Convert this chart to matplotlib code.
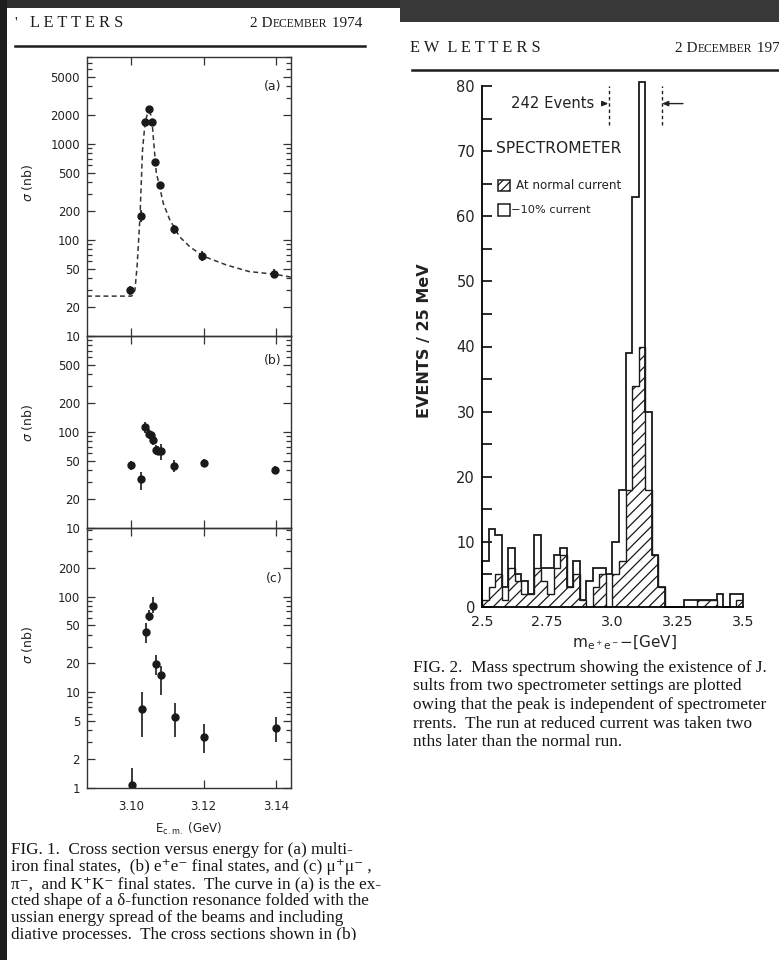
import numpy as np
import matplotlib
matplotlib.use("Agg")
import matplotlib.pyplot as plt
from matplotlib.patches import Rectangle
from matplotlib.lines import Line2D
from matplotlib.ticker import FixedLocator, LogLocator, NullFormatter, FuncFormatter

W, H = 779, 960

# ---------------- Fig. 1 : cross sections near 3.1 GeV ----------------
# (a) multihadron final states
had_E = [3.0997, 3.1027, 3.1038, 3.1049, 3.1058, 3.1067, 3.1079, 3.1118, 3.1196, 3.1395]
had_sig = [30, 178, 1700, 2300, 1700, 645, 374, 129, 68, 44.6]
had_lo = [27, 153, 1700, 2300, 1700, 645, 374, 114, 60, 40]
had_hi = [33, 203, 1700, 2300, 1700, 645, 374, 144, 76, 50]

# expected resonance shape (dashed curve)
curve_E = [3.0879, 3.1002, 3.1011, 3.1017, 3.1025, 3.1032, 3.1039, 3.1046, 3.1050,
           3.1057, 3.1063, 3.1070, 3.1078, 3.1089, 3.1107, 3.1134, 3.1162, 3.1198,
           3.1262, 3.1326, 3.1395, 3.1441]
curve_sig = [26, 26, 30, 53, 175, 866, 1660, 2090, 2170, 1925, 1016, 495, 374, 241,
             162, 108, 85, 68, 55, 46.8, 44, 41]

# (b) e+e- final states
ee_E = [3.0999, 3.1028, 3.1040, 3.1050, 3.1055, 3.1060, 3.1068, 3.1074, 3.1082, 3.1119, 3.1200, 3.1398]
ee_sig = [45, 32.6, 112, 96, 93, 82, 64.5, 64, 63, 44, 47.5, 40]
ee_lo = [40, 25, 98, 86, 84, 74, 57, 57, 51.5, 38, 43.5, 36.5]
ee_hi = [50, 38.5, 128, 107, 103, 91, 73, 72, 74.5, 50.7, 52, 44]

# (c) mu+mu-, pi+pi-, K+K- final states
mm_E = [3.1002, 3.1031, 3.1041, 3.1051, 3.1061, 3.1070, 3.1082, 3.1122, 3.1202, 3.1400]
mm_sig = [1.07, 6.7, 43, 63, 80, 19.9, 15.3, 5.5, 3.4, 4.2]
mm_lo = [0.8, 3.4, 33, 55, 68, 15.3, 9.4, 3.4, 2.3, 3.05]
mm_hi = [1.6, 10, 53, 72, 100, 24.7, 18.6, 7.8, 4.7, 5.5]

E_ticks = [3.10, 3.12, 3.14]
E_ticklabels = ["3.10", "3.12", "3.14"]
ticks_a = [10, 20, 50, 100, 200, 500, 1000, 2000, 5000]
ticks_b = [10, 20, 50, 100, 200, 500]
ticks_c = [1, 2, 5, 10, 20, 50, 100, 200]

# ---------------- Fig. 2 : e+e- mass spectrum ----------------
mass_lo, mass_hi, bin_w = 2.5, 3.5, 0.025
low_current = [7, 12, 11, 3, 9, 5, 4, 2, 11, 6,
               6, 8, 9, 3, 7, 1, 4, 6, 6, 5,
               10, 18, 39, 63, 242, 30, 8, 3, 0, 0,
               0, 1, 1, 1, 1, 1, 2, 0, 2, 2]
normal_current = [1, 3, 5, 1, 6, 4, 2, 2, 6, 4,
                  2, 6, 8, 3, 5, 1, 0, 3, 5, 0,
                  5, 7, 18, 34, 40, 18, 8, 3, 0, 0,
                  0, 0, 0, 1, 1, 1, 0, 0, 0, 1]
mass_ticks = [2.5, 2.75, 3.0, 3.25, 3.5]
mass_ticklabels = ["2.5", "2.75", "3.0", "3.25", "3.5"]
count_ticks = [0, 10, 20, 30, 40, 50, 60, 70, 80]
peak_events = 242

plt.rcParams["font.family"] = ["DejaVu Sans"]
plt.rcParams["hatch.linewidth"] = 0.9

fig = plt.figure(figsize=(W / 100, H / 100), dpi=100)
fig.patch.set_facecolor("white")
renderer = fig.canvas.get_renderer()


def fx(x):
    return x / W


def fy(y):
    return 1 - y / H


def axes_px(left, top, right, bottom):
    return fig.add_axes([left / W, 1 - bottom / H, (right - left) / W, (bottom - top) / H])


serif = ["Liberation Serif", "DejaVu Serif"]
ink = "#1c1c1c"


def run_of_text(x, y, pieces):
    """Lay text pieces side by side on one baseline (small caps headings)."""
    for txt, size in pieces:
        t = fig.text(fx(x), fy(y), txt, fontsize=size, family=serif, va="baseline",
                     ha="left", color=ink)
        bb = t.get_window_extent(renderer)
        x = bb.x1 + 0.5


# dark scanner margins
for x0, y0, x1, y1, c in [(0, 0, 400, 8, "#2f2f2f"), (400, 0, 779, 22, "#383838"),
                          (0, 0, 7, 960, "#1e1e1e")]:
    fig.add_artist(Rectangle((fx(x0), fy(y1)), (x1 - x0) / W, (y1 - y0) / H,
                             transform=fig.transFigure, color=c, lw=0, zorder=0))

# running heads and rules
run_of_text(14, 27, [("'", 11)])
run_of_text(30, 27, [("L E T T E R S", 11.8)])
run_of_text(250, 27, [("2 D", 11), ("ECEMBER", 8.4), (" 1974", 11)])
fig.add_artist(Line2D([fx(15), fx(365)], [fy(46), fy(46)], transform=fig.transFigure,
                      color=ink, lw=1.8))

run_of_text(410, 52, [("E W  L E T T E R S", 11.8)])
run_of_text(675, 52, [("2 D", 11), ("ECEMBER", 8.4), (" 1974", 11)])
fig.add_artist(Line2D([fx(412), fx(779)], [fy(70), fy(70)], transform=fig.transFigure,
                      color=ink, lw=1.8))

# ---------------- Fig. 1 panels ----------------
ax_a = axes_px(87, 57, 291, 336)
ax_b = axes_px(87, 336, 291, 528)
ax_c = axes_px(87, 528, 291, 788)

panels = [(ax_a, (10, 8000), ticks_a), (ax_b, (10, 1000), ticks_b), (ax_c, (1, 520), ticks_c)]
for ax, ylim, yt in panels:
    ax.set_facecolor("none")
    ax.set_yscale("log")
    ax.set_xlim(3.0879, 3.1441)
    ax.set_ylim(*ylim)
    ax.yaxis.set_major_locator(FixedLocator(yt))
    ax.yaxis.set_major_formatter(FuncFormatter(lambda v, p: f"{v:g}"))
    ax.yaxis.set_minor_locator(LogLocator(base=10, subs=np.arange(2, 10)))
    ax.yaxis.set_minor_formatter(NullFormatter())
    ax.set_xticks(E_ticks)
    ax.set_xticklabels(E_ticklabels)
    ax.tick_params(axis="both", which="both", direction="in", top=True, right=True,
                   color="#333", width=0.9)
    ax.tick_params(axis="y", which="major", length=6, labelsize=8.5, pad=5, labelcolor="#222")
    ax.tick_params(axis="y", which="minor", length=3.5)
    ax.tick_params(axis="x", which="major", length=6, labelsize=8.5, pad=9, labelcolor="#222")
    for s in ax.spines.values():
        s.set_linewidth(1.0)
        s.set_color("#333")
    ax.set_ylabel(r"$\sigma$ (nb)", fontsize=9, color="#222")
    ax.yaxis.set_label_coords(-0.255, 0.55)
for ax in (ax_a, ax_b):
    ax.tick_params(axis="x", labelbottom=False)

ax_a.text(0.955, 0.895, "(a)", transform=ax_a.transAxes, ha="right", va="center", fontsize=9, color="#222")
ax_b.text(0.955, 0.87, "(b)", transform=ax_b.transAxes, ha="right", va="center", fontsize=9, color="#222")
ax_c.text(0.96, 0.805, "(c)", transform=ax_c.transAxes, ha="right", va="center", fontsize=9, color="#222")

ax_a.plot(curve_E, curve_sig, ls=(0, (3.2, 2.2)), color="#333", lw=1.1)

for ax, E, s, lo, hi in [(ax_a, had_E, had_sig, had_lo, had_hi),
                         (ax_b, ee_E, ee_sig, ee_lo, ee_hi),
                         (ax_c, mm_E, mm_sig, mm_lo, mm_hi)]:
    s = np.array(s)
    yerr = np.vstack([s - np.array(lo), np.array(hi) - s])
    ax.errorbar(E, s, yerr=yerr, fmt="o", ms=5, color="#1a1a1a", ecolor="#1a1a1a",
                elinewidth=1.2, capsize=0)

ax_c.set_xlabel(r"E$_{\rm c.m.}$ (GeV)", fontsize=8.5, color="#222", labelpad=5)

# ---------------- Fig. 2 histogram ----------------
edges = mass_lo + bin_w * np.arange(len(low_current) + 1)
ax_h = axes_px(482, 86, 743, 607)
ax_h.set_facecolor("none")
ax_h.set_xlim(mass_lo, mass_hi)
ax_h.set_ylim(0, 80)
top_clip = 80.6
ax_h.stairs(normal_current, edges, fill=True, hatch="///", facecolor="none",
            edgecolor="#1a1a1a", lw=1.0, baseline=0)
ax_h.stairs(np.minimum(low_current, top_clip), edges, color="#1a1a1a", lw=1.3,
            baseline=0, clip_on=False)
for side in ("top", "right"):
    ax_h.spines[side].set_visible(False)
ax_h.spines["left"].set_linewidth(1.3)
ax_h.spines["bottom"].set_linewidth(1.3)
ax_h.set_yticks(count_ticks)
ax_h.set_yticklabels([str(v) for v in count_ticks])
ax_h.yaxis.set_minor_locator(FixedLocator(np.arange(5, 80, 10)))
ax_h.tick_params(axis="y", which="both", direction="in", length=7, width=1.3,
                 labelsize=10.5, pad=5, color="#1a1a1a", labelcolor="#222")
ax_h.set_xticks(mass_ticks)
ax_h.set_xticklabels(mass_ticklabels)
ax_h.tick_params(axis="x", length=0, labelsize=10.3, pad=6, labelcolor="#222")

# off-scale peak marker
arrow_style = dict(arrowstyle="-|>,head_length=0.35,head_width=0.15", color="#222", lw=1.0,
                   shrinkA=0, shrinkB=0)
ax_h.text(2.61, 77.3, f"{peak_events} Events", fontsize=10.6, ha="left", va="center", color="#222")
ax_h.annotate("", xy=(2.984, 77.3), xytext=(2.962, 77.3), arrowprops=arrow_style,
              annotation_clip=False)
ax_h.annotate("", xy=(3.19, 77.3), xytext=(3.27, 77.3), arrowprops=arrow_style,
              annotation_clip=False)
for xv in (2.985, 3.188):
    ax_h.plot([xv, xv], [74.0, 80.0], ls=(0, (2.5, 2)), color="#222", lw=1.0, clip_on=False)

ax_h.text(2.555, 70.4, "SPECTROMETER", fontsize=11.2, ha="left", va="center", color="#222")
ax_h.add_patch(Rectangle((2.562, 63.9), 0.045, 1.7, hatch="////", facecolor="none",
                         edgecolor="#1a1a1a", lw=1.1, clip_on=False))
ax_h.text(2.63, 64.75, "At normal current", fontsize=8.6, ha="left", va="center", color="#222")
ax_h.add_patch(Rectangle((2.562, 60.1), 0.045, 1.8, facecolor="none",
                         edgecolor="#1a1a1a", lw=1.1, clip_on=False))
ax_h.text(2.612, 60.9, "\u221210% current", fontsize=8.2, ha="left", va="center", color="#222")

fig.text(fx(425), fy(341), "EVENTS / 25 MeV", rotation=90, fontsize=11.5, fontweight="bold",
         ha="center", va="center", color="#222")
fig.text(fx(624), fy(643), r"m$_{\mathregular{e^+e^-}}$$-$[GeV]", fontsize=11,
         ha="center", va="center", color="#222")

# ---------------- captions ----------------
cap1 = ["FIG. 1.  Cross section versus energy for (a) multi-",
        "iron final states,  (b) e\u207ae\u207b final states, and (c) \u03bc\u207a\u03bc\u207b ,",
        "\u03c0\u207b,  and K\u207aK\u207b final states.  The curve in (a) is the ex-",
        "cted shape of a \u03b4-function resonance folded with the",
        "ussian energy spread of the beams and including",
        "diative processes.  The cross sections shown in (b)"]
for i, line in enumerate(cap1):
    fig.text(fx(11), fy(850 + 17 * i), line, fontsize=12.3, family=serif, ha="left",
             va="center", color="#151515")
# page bottom edge cuts the last caption line
fig.add_artist(Rectangle((0.01, 0), 0.5, fy(940), transform=fig.transFigure,
                         color="white", lw=0, zorder=5))

cap2 = ["FIG. 2.  Mass spectrum showing the existence of J.",
        "sults from two spectrometer settings are plotted",
        "owing that the peak is independent of spectrometer",
        "rrents.  The run at reduced current was taken two",
        "nths later than the normal run."]
for i, line in enumerate(cap2):
    fig.text(fx(413), fy(668 + 18.5 * i), line, fontsize=12.4, family=serif, ha="left",
             va="center", color="#151515")

fig.savefig("out.png", dpi=100, facecolor="white")
